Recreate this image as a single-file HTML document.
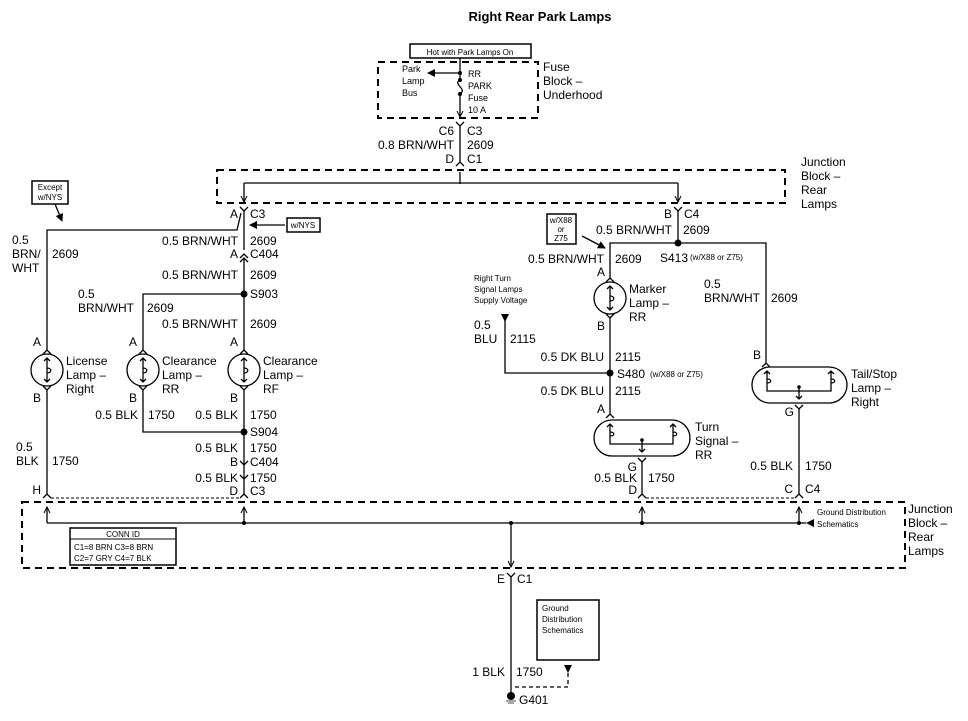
<!DOCTYPE html>
<html><head><meta charset="utf-8"><style>
body{margin:0;background:#fff}
svg{display:block}
text{font-family:"Liberation Sans",Arial,sans-serif;fill:#000}
.l{font-size:12px}
.s{font-size:9px}
.t{font-size:8px}
.r{text-anchor:end}
.c{text-anchor:middle}
</style></head><body>
<svg width="968" height="721" viewBox="0 0 968 721" xmlns="http://www.w3.org/2000/svg">
<defs>
<marker id="ah" markerWidth="8" markerHeight="8" refX="7" refY="4" orient="auto" markerUnits="userSpaceOnUse"><path d="M0,0 L8,4 L0,8 Z" fill="#000"/></marker>
<marker id="oa" markerWidth="8" markerHeight="8" refX="7" refY="4" orient="auto" markerUnits="userSpaceOnUse"><path d="M1,1 L7,4 L1,7" fill="none" stroke="#000" stroke-width="1"/></marker>
</defs>
<g stroke="#000" fill="none" stroke-width="1.3">
<!-- title -->
</g>
<text x="540" y="21" class="c" font-size="13" font-weight="bold">Right Rear Park Lamps</text>

<!-- Fuse block -->
<rect x="410" y="44" width="121" height="14" fill="none" stroke="#000" stroke-width="1.5"/>
<text x="470" y="55" class="t c">Hot with Park Lamps On</text>
<rect x="378" y="62" width="160" height="56" fill="none" stroke="#000" stroke-width="2" stroke-dasharray="7,5"/>
<text x="543" y="71" class="l">Fuse</text>
<text x="543" y="85" class="l">Block –</text>
<text x="543" y="99" class="l">Underhood</text>
<g stroke="#000" fill="none" stroke-width="1.3">
<line x1="460" y1="58" x2="460" y2="80"/>
<line x1="460" y1="73" x2="428" y2="73" marker-end="url(#ah)"/>
<path d="M460,80 C452,84 468,89 460,94"/>
<line x1="460" y1="94" x2="460" y2="117" marker-end="url(#oa)"/>
<path d="M456,122 L460,126 L464,122"/>
<line x1="460" y1="126" x2="460" y2="162"/>
<path d="M456,166 L460,162 L464,166"/>
<line x1="460" y1="172" x2="460" y2="184"/>
</g>
<circle cx="460" cy="73" r="2" fill="#000"/><circle cx="460" cy="80" r="2" fill="#000"/><circle cx="460" cy="94" r="2" fill="#000"/>
<text x="402" y="72" class="s">Park</text><text x="402" y="84" class="s">Lamp</text><text x="402" y="96" class="s">Bus</text>
<text x="468" y="77" class="s">RR</text><text x="468" y="89" class="s">PARK</text><text x="468" y="101" class="s">Fuse</text><text x="468" y="113" class="s">10 A</text>
<text x="454" y="135" class="l r">C6</text><text x="467" y="135" class="l">C3</text>
<text x="454" y="149" class="l r">0.8 BRN/WHT</text><text x="467" y="149" class="l">2609</text>
<text x="454" y="163" class="l r">D</text><text x="467" y="163" class="l">C1</text>

<!-- Junction block top -->
<rect x="217" y="170" width="568" height="33" fill="none" stroke="#000" stroke-width="2" stroke-dasharray="7,5"/>
<text x="801" y="166" class="l">Junction</text><text x="801" y="180" class="l">Block –</text><text x="801" y="194" class="l">Rear</text><text x="801" y="208" class="l">Lamps</text>
<g stroke="#000" fill="none" stroke-width="1.3">
<line x1="244" y1="183" x2="678" y2="183"/>
<line x1="244" y1="183" x2="244" y2="202" marker-end="url(#oa)"/>
<line x1="678" y1="183" x2="678" y2="202" marker-end="url(#oa)"/>
<path d="M240,207 L244,211 L248,207"/><path d="M674,207 L678,211 L682,207"/>
<line x1="244" y1="211" x2="244" y2="250"/>
<path d="M241,213 L237,230 L47,230 L47,350"/>
<line x1="285" y1="225" x2="250" y2="225" marker-end="url(#ah)"/>
<line x1="55" y1="204" x2="62" y2="221" marker-end="url(#ah)"/>
<path d="M240,258 L244,254 L248,258"/><path d="M240,262 L244,258 L248,262"/>
<line x1="244" y1="258" x2="244" y2="350"/>
<path d="M244,294 L143,294 L143,350"/>
<!-- lamp connectors -->
<path d="M43,354 L47,350 L51,354"/><path d="M139,354 L143,350 L147,354"/><path d="M240,354 L244,350 L248,354"/>
<path d="M43,386 L47,390 L51,386"/><path d="M139,386 L143,390 L147,386"/><path d="M240,386 L244,390 L248,386"/>
<line x1="47" y1="390" x2="47" y2="494"/>
<path d="M143,390 L143,432 L244,432"/>
<line x1="244" y1="390" x2="244" y2="494"/>
<path d="M240,461 L244,465 L248,461"/><path d="M240,475 L244,479 L248,475"/>
<path d="M43,498 L47,494 L51,498"/><path d="M240,498 L244,494 L248,498"/>
</g>
<circle cx="244" cy="294" r="3.5" fill="#000"/><circle cx="244" cy="432" r="3.5" fill="#000"/>
<g stroke="#000" fill="none" stroke-width="1.3">
<circle cx="47" cy="370" r="16"/><circle cx="143" cy="370" r="16"/><circle cx="244" cy="370" r="16"/>
<path d="M47,358 L47,382 M44,361 L47,358 L50,361 M44,379 L47,382 L50,379 M47,368 C52,368 52,373 47,373"/>
<path d="M143,358 L143,382 M140,361 L143,358 L146,361 M140,379 L143,382 L146,379 M143,368 C148,368 148,373 143,373"/>
<path d="M244,358 L244,382 M241,361 L244,358 L247,361 M241,379 L244,382 L247,379 M244,368 C249,368 249,373 244,373"/>
</g>
<rect x="32" y="181" width="36" height="23" fill="none" stroke="#000" stroke-width="1.5"/>
<text x="50" y="190" class="t c">Except</text><text x="50" y="200" class="t c">w/NYS</text>
<rect x="287" y="218" width="33" height="14" fill="none" stroke="#000" stroke-width="1.5"/>
<text x="303" y="228" class="t c">w/NYS</text>
<text x="238" y="218" class="l r">A</text><text x="250" y="218" class="l">C3</text>
<text x="238" y="245" class="l r">0.5 BRN/WHT</text><text x="250" y="245" class="l">2609</text>
<text x="238" y="258" class="l r">A</text><text x="250" y="258" class="l">C404</text>
<text x="238" y="279" class="l r">0.5 BRN/WHT</text><text x="250" y="279" class="l">2609</text>
<text x="250" y="298" class="l">S903</text>
<text x="78" y="298" class="l">0.5</text><text x="78" y="312" class="l">BRN/WHT</text><text x="147" y="312" class="l">2609</text>
<text x="238" y="328" class="l r">0.5 BRN/WHT</text><text x="250" y="328" class="l">2609</text>
<text x="12" y="244" class="l">0.5</text><text x="12" y="258" class="l">BRN/</text><text x="12" y="272" class="l">WHT</text><text x="52" y="258" class="l">2609</text>
<text x="41" y="346" class="l r">A</text><text x="137" y="346" class="l r">A</text><text x="238" y="346" class="l r">A</text>
<text x="41" y="402" class="l r">B</text><text x="137" y="402" class="l r">B</text><text x="238" y="402" class="l r">B</text>
<text x="66" y="365" class="l">License</text><text x="66" y="379" class="l">Lamp –</text><text x="66" y="393" class="l">Right</text>
<text x="162" y="365" class="l">Clearance</text><text x="162" y="379" class="l">Lamp –</text><text x="162" y="393" class="l">RR</text>
<text x="263" y="365" class="l">Clearance</text><text x="263" y="379" class="l">Lamp –</text><text x="263" y="393" class="l">RF</text>
<text x="138" y="419" class="l r">0.5 BLK</text><text x="148" y="419" class="l">1750</text>
<text x="238" y="419" class="l r">0.5 BLK</text><text x="250" y="419" class="l">1750</text>
<text x="250" y="436" class="l">S904</text>
<text x="238" y="452" class="l r">0.5 BLK</text><text x="250" y="452" class="l">1750</text>
<text x="238" y="466" class="l r">B</text><text x="250" y="466" class="l">C404</text>
<text x="238" y="482" class="l r">0.5 BLK</text><text x="250" y="482" class="l">1750</text>
<text x="238" y="495" class="l r">D</text><text x="250" y="495" class="l">C3</text>
<text x="16" y="451" class="l">0.5</text><text x="16" y="465" class="l">BLK</text><text x="52" y="465" class="l">1750</text>
<text x="41" y="494" class="l r">H</text>

<!-- Right side -->
<g stroke="#000" fill="none" stroke-width="1.3">
<line x1="678" y1="211" x2="678" y2="243"/>
<path d="M610,278 L610,243 L766,243 L766,363"/>
<line x1="582" y1="236" x2="605" y2="248" marker-end="url(#ah)"/>
<path d="M606,282 L610,278 L614,282"/>
<path d="M606,314 L610,318 L614,314"/>
<line x1="610" y1="318" x2="610" y2="414"/>
<path d="M610,373 L505,373 L505,320"/>
<path d="M606,418 L610,414 L614,418"/>
<rect x="594" y="420" width="96" height="36" rx="18"/>
<path d="M610,424 L610,444 L673,444 L673,424 M607,427 L610,424 L613,427 M670,427 L673,424 L676,427 M610,432 C615,432 615,436 610,436 M673,432 C678,432 678,436 673,436 M642,440 L642,452 M639,449 L642,452 L645,449"/>
<path d="M638,458 L642,462 L646,458"/>
<line x1="642" y1="462" x2="642" y2="494"/>
<path d="M638,498 L642,494 L646,498"/>
<path d="M762,367 L766,363 L770,367"/>
<rect x="752" y="367" width="95" height="36" rx="18"/>
<path d="M767,371 L767,391 L831,391 L831,371 M764,374 L767,371 L770,374 M828,374 L831,371 L834,374 M767,379 C772,379 772,383 767,383 M831,379 C836,379 836,383 831,383 M799,387 L799,399 M796,396 L799,399 L802,396"/>
<path d="M795,405 L799,409 L803,405"/>
<line x1="799" y1="409" x2="799" y2="494"/>
<path d="M795,498 L799,494 L803,498"/>
<circle cx="610" cy="298" r="16"/>
<path d="M610,286 L610,310 M607,289 L610,286 L613,289 M607,307 L610,310 L613,307 M610,296 C615,296 615,301 610,301"/>
</g>
<path d="M501,314 L509,314 L505,322 Z" fill="#000"/>
<circle cx="678" cy="243" r="3.5" fill="#000"/><circle cx="610" cy="373" r="3.5" fill="#000"/>
<circle cx="642" cy="440" r="1.8" fill="#000"/><circle cx="799" cy="387" r="1.8" fill="#000"/>
<rect x="547" y="214" width="29" height="30" fill="none" stroke="#000" stroke-width="1.5"/>
<text x="561" y="223" class="t c">w/X88</text><text x="561" y="232" class="t c">or</text><text x="561" y="241" class="t c">Z75</text>
<text x="672" y="218" class="l r">B</text><text x="684" y="218" class="l">C4</text>
<text x="672" y="234" class="l r">0.5 BRN/WHT</text><text x="683" y="234" class="l">2609</text>
<text x="604" y="263" class="l r">0.5 BRN/WHT</text><text x="615" y="263" class="l">2609</text>
<text x="660" y="262" class="l">S413</text><text x="690" y="260" class="t">(w/X88 or Z75)</text>
<text x="605" y="276" class="l r">A</text><text x="605" y="330" class="l r">B</text>
<text x="629" y="293" class="l">Marker</text><text x="629" y="307" class="l">Lamp –</text><text x="629" y="321" class="l">RR</text>
<text x="474" y="281" class="t">Right Turn</text><text x="474" y="292" class="t">Signal Lamps</text><text x="474" y="303" class="t">Supply Voltage</text>
<text x="474" y="329" class="l">0.5</text><text x="474" y="343" class="l">BLU</text><text x="510" y="343" class="l">2115</text>
<text x="604" y="361" class="l r">0.5 DK BLU</text><text x="615" y="361" class="l">2115</text>
<text x="617" y="378" class="l">S480</text><text x="650" y="377" class="t">(w/X88 or Z75)</text>
<text x="604" y="395" class="l r">0.5 DK BLU</text><text x="615" y="395" class="l">2115</text>
<text x="605" y="413" class="l r">A</text>
<text x="695" y="431" class="l">Turn</text><text x="695" y="445" class="l">Signal –</text><text x="695" y="459" class="l">RR</text>
<text x="637" y="471" class="l r">G</text>
<text x="637" y="482" class="l r">0.5 BLK</text><text x="648" y="482" class="l">1750</text>
<text x="637" y="494" class="l r">D</text>
<text x="761" y="359" class="l r">B</text>
<text x="851" y="378" class="l">Tail/Stop</text><text x="851" y="392" class="l">Lamp –</text><text x="851" y="406" class="l">Right</text>
<text x="794" y="416" class="l r">G</text>
<text x="704" y="288" class="l">0.5</text><text x="704" y="302" class="l">BRN/WHT</text><text x="771" y="302" class="l">2609</text>
<text x="793" y="470" class="l r">0.5 BLK</text><text x="805" y="470" class="l">1750</text>
<text x="793" y="493" class="l r">C</text><text x="805" y="493" class="l">C4</text>

<!-- dotted connector lines -->
<g stroke="#000" stroke-width="1" stroke-dasharray="3,2" fill="none">
<line x1="51" y1="498" x2="240" y2="498"/>
<line x1="646" y1="498" x2="795" y2="498"/>
</g>

<!-- bottom junction block -->
<rect x="22" y="502" width="883" height="66" fill="none" stroke="#000" stroke-width="2" stroke-dasharray="7,5"/>
<text x="908" y="513" class="l">Junction</text><text x="908" y="527" class="l">Block –</text><text x="908" y="541" class="l">Rear</text><text x="908" y="555" class="l">Lamps</text>
<g stroke="#000" fill="none" stroke-width="1.3">
<line x1="47" y1="523" x2="806" y2="523"/>
<line x1="47" y1="523" x2="47" y2="507" marker-end="url(#oa)"/>
<line x1="244" y1="523" x2="244" y2="507" marker-end="url(#oa)"/>
<line x1="642" y1="523" x2="642" y2="507" marker-end="url(#oa)"/>
<line x1="799" y1="523" x2="799" y2="507" marker-end="url(#oa)"/>
<line x1="511" y1="523" x2="511" y2="567" marker-end="url(#oa)"/>
<path d="M507,573 L511,577 L515,573"/>
<line x1="511" y1="577" x2="511" y2="692"/>
</g>
<circle cx="244" cy="523" r="2" fill="#000"/><circle cx="511" cy="523" r="2" fill="#000"/><circle cx="642" cy="523" r="2" fill="#000"/><circle cx="799" cy="523" r="2" fill="#000"/>
<path d="M806,523 L814,519 L814,527 Z" fill="#000"/>
<text x="817" y="515" class="t">Ground Distribution</text><text x="817" y="527" class="t">Schematics</text>
<rect x="70" y="528" width="106" height="37" fill="none" stroke="#000" stroke-width="1.5"/>
<line x1="70" y1="539" x2="176" y2="539" stroke="#000"/>
<text x="123" y="537" class="t c">CONN ID</text>
<text x="74" y="550" class="t">C1=8 BRN  C3=8 BRN</text>
<text x="74" y="561" class="t">C2=7 GRY  C4=7 BLK</text>

<text x="505" y="583" class="l r">E</text><text x="517" y="583" class="l">C1</text>
<rect x="537" y="600" width="62" height="60" fill="none" stroke="#000" stroke-width="1.5"/>
<text x="542" y="611" class="t">Ground</text><text x="542" y="622" class="t">Distribution</text><text x="542" y="633" class="t">Schematics</text>
<path d="M564,665 L572,665 L568,673 Z" fill="#000"/>
<path d="M568,673 L568,687 L515,687" fill="none" stroke="#000" stroke-width="1.3" stroke-dasharray="4,3"/>
<text x="505" y="676" class="l r">1 BLK</text><text x="516" y="676" class="l">1750</text>
<circle cx="511" cy="696" r="4" fill="#000"/>
<path d="M506,701 L516,701 M508,703 L514,703" stroke="#888" stroke-width="1.5"/>
<text x="519" y="704" class="l">G401</text>
</svg>
</body></html>
